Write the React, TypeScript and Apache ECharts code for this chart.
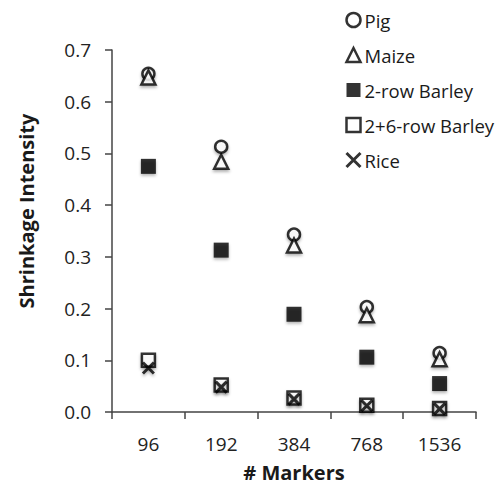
import React, { useEffect, useRef } from "react";
import * as echarts from "echarts";

const categories = ["96", "192", "384", "768", "1536"];
const pig = [0.654, 0.513, 0.343, 0.203, 0.114];
const maize = [0.647, 0.484, 0.322, 0.187, 0.102];
const barley2 = [0.475, 0.313, 0.189, 0.106, 0.055];
const barley26 = [0.1, 0.052, 0.027, 0.013, 0.007];
const rice = [0.085, 0.048, 0.025, 0.012, 0.006];
const yTitle = "Shrinkage Intensity";
const xTitle = "# Markers";

const font = "'Open Sans', sans-serif";
const crossPath = "path://M0,0L10,10M10,0L0,10";

export default function App() {
  const ref = useRef<HTMLDivElement>(null);
  useEffect(() => {
    if (!ref.current) return;
    const chart = echarts.init(ref.current, null, { renderer: "svg" });
    const shadow = { shadowBlur: 3, shadowColor: "rgba(0,0,0,0.35)", shadowOffsetY: 2 };
    const mk = (name: string, data: number[], symbol: string, size: number, item: any) => ({
      name,
      type: "scatter",
      data,
      symbol,
      symbolSize: size,
      itemStyle: { ...item, ...shadow },
    });
    chart.setOption({
      animation: false,
      backgroundColor: "#fff",
      textStyle: { fontFamily: font },
      grid: { left: 112, right: 22, top: 50, bottom: 74, outerBoundsMode: "none", containLabel: false },
      graphic: [
        {
          type: "text",
          x: 26,
          y: 211,
          rotation: Math.PI / 2,
          style: {
            text: yTitle,
            font: `bold 20px ${font}`,
            fill: "#1a1a1a",
            align: "center",
            verticalAlign: "middle",
          },
        },
      ],
      legend: {
        orient: "vertical",
        left: 339,
        top: 5,
        itemWidth: 14,
        itemHeight: 14,
        itemGap: 15,
        textStyle: { fontFamily: font, fontSize: 18.5, color: "#1a1a1a", lineHeight: 20, padding: [0, 0, 0, -1] },
        data: [
          { name: "Pig", itemStyle: { color: "#fff", borderColor: "#000", borderWidth: 2.5 } },
          { name: "Maize", itemStyle: { color: "#fff", borderColor: "#000", borderWidth: 2.5 } },
          { name: "2-row Barley" },
          { name: "2+6-row Barley", itemStyle: { color: "#fff", borderColor: "#000", borderWidth: 2.5 } },
          { name: "Rice", itemStyle: { color: "none", borderColor: "#000", borderWidth: 3 } },
        ],
      },
      xAxis: {
        type: "category",
        data: categories,
        boundaryGap: true,
        name: xTitle,
        nameLocation: "middle",
        nameGap: 50,
        nameTextStyle: { fontFamily: font, fontSize: 20, lineHeight: 20, fontWeight: "bold", color: "#1a1a1a" },
        axisLine: { lineStyle: { color: "#444", width: 1.5 } },
        axisTick: { show: true, length: 7, alignWithLabel: false, lineStyle: { color: "#444", width: 1.5 } },
        axisLabel: { fontSize: 19, color: "#222", margin: 22, fontFamily: font },
        splitLine: { show: false },
      },
      yAxis: {
        type: "value",
        min: 0,
        max: 0.7,
        interval: 0.1,
        axisLine: { show: true, lineStyle: { color: "#444", width: 1.5 } },
        axisTick: { show: true, length: 7, lineStyle: { color: "#444", width: 1.5 } },
        axisLabel: { fontSize: 19, color: "#222", margin: 21, fontFamily: font, formatter: (v: number) => v.toFixed(1) },
        splitLine: { show: false },
      },
      series: [
        mk("Pig", pig, "circle", 12, { color: "#fff", borderColor: "#000", borderWidth: 2.5 }),
        mk("Maize", maize, "triangle", 14, { color: "#fff", borderColor: "#000", borderWidth: 2.5 }),
        mk("2-row Barley", barley2, "rect", 15, { color: "#000" }),
        mk("2+6-row Barley", barley26, "rect", 13, { color: "#fff", borderColor: "#000", borderWidth: 2.5 }),
        mk("Rice", rice, crossPath, 11, { color: "none", borderColor: "#000", borderWidth: 3 }),
      ],
    });
    return () => chart.dispose();
  }, []);
  return <div ref={ref} style={{ position: "fixed", left: 0, top: 0, width: 498, height: 486 }} />;
}
